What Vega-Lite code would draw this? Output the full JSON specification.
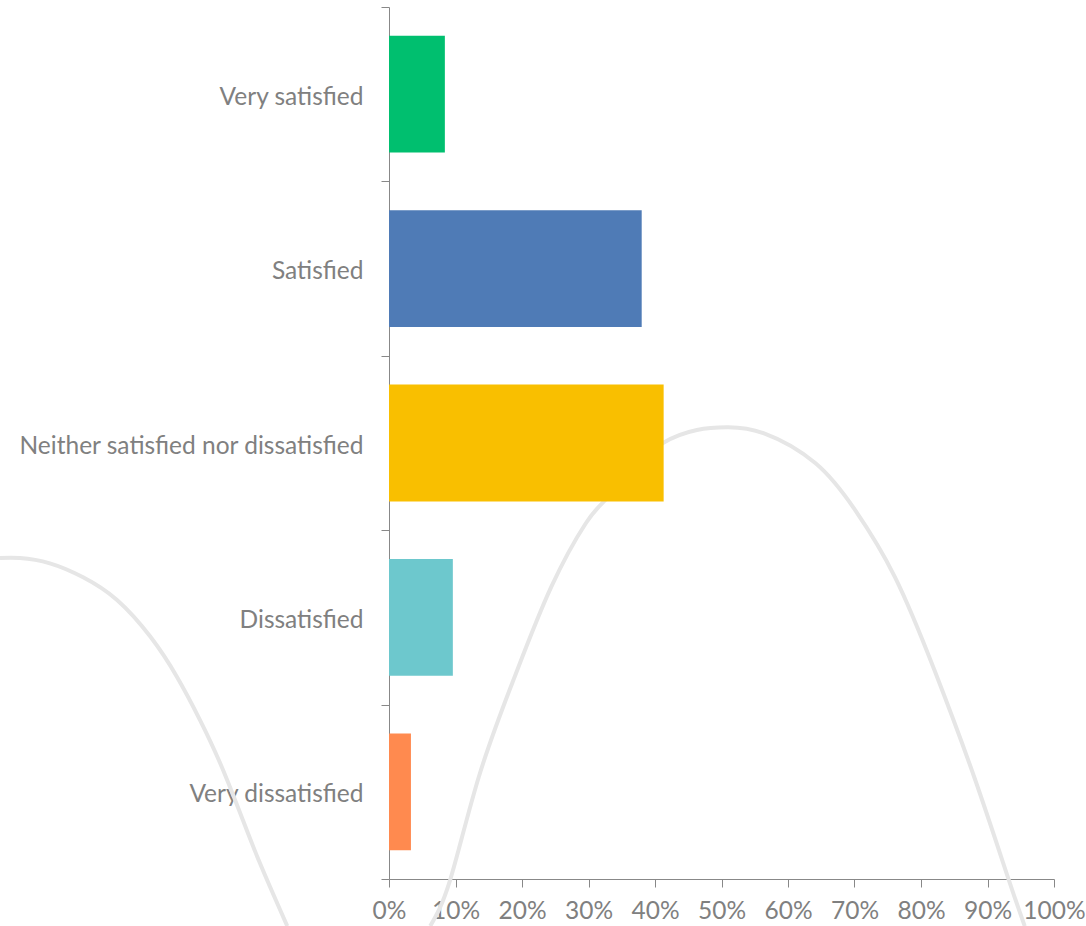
{
  "$schema": "https://vega.github.io/schema/vega-lite/v6.json",
  "width": 665,
  "height": 872,
  "autosize": {"type": "none"},
  "padding": {"left": 389, "top": 7, "right": 32, "bottom": 47},
  "background": "white",
  "config": {
    "view": {"stroke": null},
    "font": "Lato",
    "axis": {
      "domainColor": "#888888",
      "tickColor": "#888888",
      "labelColor": "#808080",
      "labelFont": "Lato",
      "labelFontSize": 24.5,
      "tickSize": 8,
      "grid": false,
      "title": null
    }
  },
  "datasets": {
    "responses": [
      {"answer": "Very satisfied", "share": 0.084},
      {"answer": "Satisfied", "share": 0.38},
      {"answer": "Neither satisfied nor dissatisfied", "share": 0.413},
      {"answer": "Dissatisfied", "share": 0.096},
      {"answer": "Very dissatisfied", "share": 0.033}
    ],
    "swoosh": [
      {"arc": "a", "x": -0.585, "y": 36.8},
      {"arc": "a", "x": -0.555, "y": 36.8},
      {"arc": "a", "x": -0.510, "y": 36.2},
      {"arc": "a", "x": -0.460, "y": 34.6},
      {"arc": "a", "x": -0.409, "y": 32.0},
      {"arc": "a", "x": -0.359, "y": 27.8},
      {"arc": "a", "x": -0.319, "y": 23.2},
      {"arc": "a", "x": -0.284, "y": 18.2},
      {"arc": "a", "x": -0.254, "y": 13.3},
      {"arc": "a", "x": -0.224, "y": 7.6},
      {"arc": "a", "x": -0.194, "y": 1.8},
      {"arc": "a", "x": -0.153, "y": -5.4},
      {"arc": "b", "x": 0.062, "y": -5.4},
      {"arc": "b", "x": 0.092, "y": -0.1},
      {"arc": "b", "x": 0.135, "y": 11.7},
      {"arc": "b", "x": 0.189, "y": 23.2},
      {"arc": "b", "x": 0.244, "y": 33.5},
      {"arc": "b", "x": 0.296, "y": 40.8},
      {"arc": "b", "x": 0.326, "y": 43.5},
      {"arc": "b", "x": 0.370, "y": 47.1},
      {"arc": "b", "x": 0.412, "y": 50.0},
      {"arc": "b", "x": 0.463, "y": 51.5},
      {"arc": "b", "x": 0.510, "y": 51.8},
      {"arc": "b", "x": 0.564, "y": 51.1},
      {"arc": "b", "x": 0.641, "y": 47.7},
      {"arc": "b", "x": 0.701, "y": 42.3},
      {"arc": "b", "x": 0.761, "y": 34.6},
      {"arc": "b", "x": 0.820, "y": 24.0},
      {"arc": "b", "x": 0.880, "y": 11.7},
      {"arc": "b", "x": 0.932, "y": -0.1},
      {"arc": "b", "x": 0.956, "y": -5.4}
    ]
  },
  "layer": [
    {
      "data": {"name": "swoosh"},
      "mark": {"type": "line", "interpolate": "natural", "stroke": "#e6e6e6", "strokeWidth": 4, "clip": false},
      "encoding": {
        "x": {
          "field": "x",
          "type": "quantitative",
          "scale": {"domain": [0, 1], "nice": false, "zero": false},
          "axis": {"format": ".0%", "values": [0, 0.1, 0.2, 0.3, 0.4, 0.5, 0.6, 0.7, 0.8, 0.9, 1], "labelPadding": 12, "labelOverlap": false, "labelFlush": false}
        },
        "y": {"field": "y", "type": "quantitative", "scale": {"domain": [0, 100], "nice": false, "zero": false}, "axis": null},
        "detail": {"field": "arc"}
      }
    },
    {
      "data": {"name": "responses"},
      "mark": {"type": "bar", "height": {"band": 0.67}},
      "encoding": {
        "y": {
          "field": "answer",
          "type": "nominal",
          "sort": null,
          "scale": {"paddingInner": 0, "paddingOuter": 0},
          "axis": {"tickBand": "extent", "labelPadding": 18, "labelLimit": 400, "labelOffset": 3}
        },
        "x": {
          "field": "share",
          "type": "quantitative",
          "scale": {"domain": [0, 1], "nice": false},
          "axis": {"format": ".0%", "values": [0, 0.1, 0.2, 0.3, 0.4, 0.5, 0.6, 0.7, 0.8, 0.9, 1], "labelPadding": 12, "labelOverlap": false, "labelFlush": false}
        },
        "color": {
          "field": "answer",
          "type": "nominal",
          "sort": null,
          "scale": {
            "domain": ["Very satisfied", "Satisfied", "Neither satisfied nor dissatisfied", "Dissatisfied", "Very dissatisfied"],
            "range": ["#00bf6f", "#4f7bb6", "#f9bf00", "#6dc8cd", "#ff8a4f"]
          },
          "legend": null
        }
      }
    }
  ],
  "resolve": {"scale": {"y": "independent"}}
}
